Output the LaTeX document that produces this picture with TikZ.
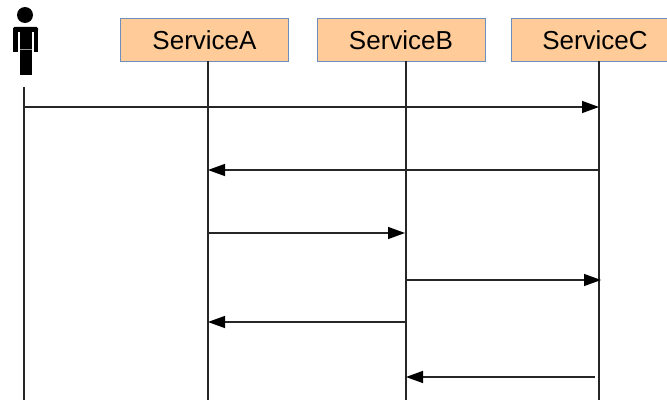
\documentclass[tikz,border=0pt]{standalone}
\usepackage{fontspec}
\setmainfont{Liberation Sans}
\usetikzlibrary{arrows.meta}
\definecolor{boxfill}{HTML}{FFCC99}
\definecolor{boxline}{HTML}{6C8EBF}
\begin{document}
\begin{tikzpicture}[x=1pt,y=-1pt,
  service node/.style={rectangle,draw=boxline,fill=boxfill,line width=1pt,
    minimum width=168pt,minimum height=43pt,inner sep=0pt,
    font=\fontsize{26}{30}\selectfont},
  life line/.style={line width=1.4pt,black!85},
  msg/.style={line width=1.4pt,black!85,-{Triangle[length=17pt,width=12pt,color=black]}}]

  \useasboundingbox (0,0) rectangle (667,401);

  % participants
  \node[service node] (sa) at (204.5,40) {ServiceA};
  \node[service node] (sb) at (401,40) {ServiceB};
  \node[service node] (sc) at (595,40) {ServiceC};

  % actor
  \fill (25,15) circle (8);
  \fill[rounded corners=1.5pt] (13,27) rectangle (38,32);
  \fill (13,29) rectangle (17.5,52);
  \fill (33.5,29) rectangle (38,52);
  \fill (20,29) rectangle (32,75);
  \draw[black!40,line width=0.6pt] (20,49) -- (32,49);

  % lifelines
  \coordinate (u0) at (24,87);   \coordinate (u1) at (24,400);
  \coordinate (a0) at (208,61);  \coordinate (a1) at (208,400);
  \coordinate (b0) at (406,61);  \coordinate (b1) at (406,400);
  \coordinate (c0) at (599,61);  \coordinate (c1) at (599,400);
  \path
   (u0) edge[life line] (u1)
   (a0) edge[life line] (a1)
   (b0) edge[life line] (b1)
   (c0) edge[life line,line width=1.8pt] (c1);

  % messages
  \coordinate (m1s) at (24,107);  \coordinate (m1e) at (599,107);
  \coordinate (m2s) at (599,170); \coordinate (m2e) at (208,170);
  \coordinate (m3s) at (208,233); \coordinate (m3e) at (405,233);
  \coordinate (m4s) at (406,280); \coordinate (m4e) at (601,280);
  \coordinate (m5s) at (406,322); \coordinate (m5e) at (208,322);
  \coordinate (m6s) at (595,377); \coordinate (m6e) at (406,377);
  \path
   (m1s) edge[msg] (m1e)
   (m2s) edge[msg] (m2e)
   (m3s) edge[msg] (m3e)
   (m4s) edge[msg] (m4e)
   (m5s) edge[msg] (m5e)
   (m6s) edge[msg] (m6e);
\end{tikzpicture}
\end{document}
